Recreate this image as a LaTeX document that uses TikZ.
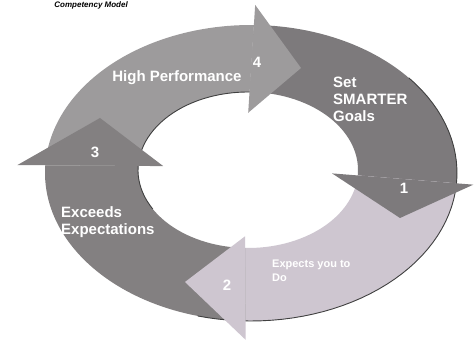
\documentclass[tikz,border=0pt]{standalone}
\usepackage{fontspec}
\setmainfont{Liberation Sans}
\usetikzlibrary{calc}
\definecolor{cfour}{HTML}{9D9B9C}
\definecolor{cone}{HTML}{7D7A7C}
\definecolor{ctwo}{HTML}{CEC6D0}
\definecolor{cthree}{HTML}{838081}
\def\OX{251}\def\OY{173}\def\ORX{206}\def\ORY{148}
\def\IX{248}\def\IY{170}\def\IRX{110}\def\IRY{78}
\newcommand\ringbody[3]{%
  \fill[#1] plot[domain=#2:#3,samples=50] ({\OX+\ORX*cos(\x)},{\OY+\ORY*sin(\x)})
    -- plot[domain=#3:#2,samples=50] ({\IX+\IRX*cos(\x)},{\IY+\IRY*sin(\x)}) -- cycle;}
\newcommand\ringhead[7]{%
  \coordinate (#2i) at ({\IX+\IRX*cos(#3)},{\IY+\IRY*sin(#3)});
  \coordinate (#2o) at ({\OX+\ORX*cos(#3)},{\OY+\ORY*sin(#3)});
  \coordinate (#2t) at (#6,#7);
  \fill[#1] ($(#2i)!-#4!(#2o)$) -- ($(#2o)!-#5!(#2i)$) -- (#2t) -- cycle;}
\tikzset{
  lbl/.style={text=white, inner sep=0pt, font=\fontsize{15}{17}\selectfont\bfseries},
  edgeline/.style={draw=black!75, line width=0.9pt}
}
\begin{document}
\begin{tikzpicture}[x=1pt,y=-1pt]
\useasboundingbox (0,0) rectangle (476,344);
\fill[white] (0,0) rectangle (476,344);
% title
\node[anchor=base east, inner sep=0pt, font=\fontsize{8}{10}\selectfont\bfseries\itshape] (title) at (128,8) {Competency Model};
% bodies
\ringbody{cone}{270.8}{364}
\ringbody{ctwo}{4}{91.5}
\ringbody{cthree}{91.5}{183}
\ringbody{cfour}{183}{270.8}
% shadow edges
\draw[edgeline] plot[domain=150:275,samples=40] ({\IX+\IRX*cos(\x)},{\IY+\IRY*sin(\x)});
\draw[edgeline] plot[domain=-40:105,samples=50] ({\OX+\ORX*cos(\x)},{\OY+\ORY*sin(\x)});
% heads
\ringhead{cone}{ha}{4}{0.26}{0.17}{400}{218}
\ringhead{ctwo}{hb}{91.5}{0.16}{0.26}{185}{282}
\ringhead{cthree}{hc}{183}{0.27}{0.30}{100}{118}
\ringhead{cfour}{hd}{270.8}{0.31}{0.30}{301}{68}
% labels
\node[lbl] (t4) at (177,78) {High Performance};
\node[lbl] (n4) at (257,62) {4};
\node[lbl, align=left, anchor=west] (t1) at (333,99) {Set\\SMARTER\\Goals};
\node[lbl] (n1) at (404,188) {1};
\node[lbl, font=\fontsize{11}{14}\selectfont\bfseries, align=left, anchor=west] (t2) at (272,271) {Expects you to\\Do};
\node[lbl] (n2) at (227,285) {2};
\node[lbl] (n3) at (95,152) {3};
\node[lbl, align=left, anchor=west] (t3) at (61,222) {Exceeds\\Expectations};
\end{tikzpicture}
\end{document}
